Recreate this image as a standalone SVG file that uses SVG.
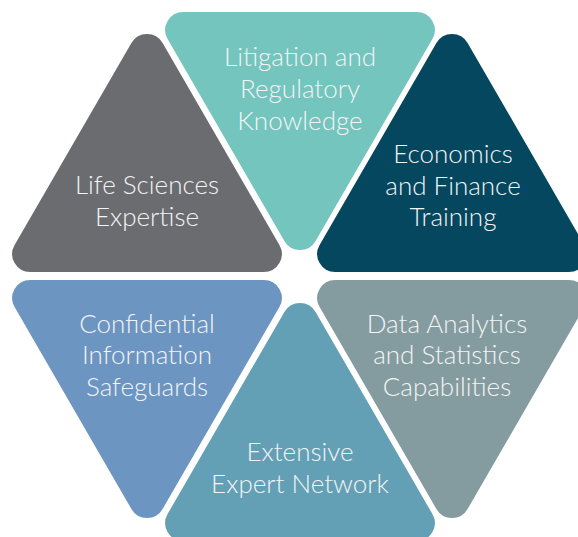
<svg xmlns="http://www.w3.org/2000/svg" width="578" height="537" viewBox="0 0 578 537">
<style>
text{font-family:Lato,"Open Sans","Liberation Sans",sans-serif;font-weight:300;font-size:26px;fill:#f2f4f5;text-anchor:middle}
</style>
<defs>
<path id="tri" d="M15.6,27 L132.4,229 A18,18 0 0 1 116.8,256 L-116.8,256 A18,18 0 0 1 -132.4,229 L-15.6,27 A18,18 0 0 1 15.6,27 Z"/>
</defs>
<rect width="578" height="537" fill="#ffffff"/>
<g id="life-sciences">
<use href="#tri" transform="translate(147,16)" fill="#6b6c70"/>
<text x="147" y="194">Life Sciences</text>
<text x="147" y="226">Expertise</text>
</g>
<g id="litigation">
<use href="#tri" transform="translate(300,268) scale(1,-1)" fill="#74c5be"/>
<text x="300" y="66">Litigation and</text>
<text x="300" y="98">Regulatory</text>
<text x="300" y="130">Knowledge</text>
</g>
<g id="economics">
<use href="#tri" transform="translate(452,16)" fill="#04475f"/>
<text x="453" y="163">Economics</text>
<text x="453" y="195">and Finance</text>
<text x="453" y="226">Training</text>
</g>
<g id="confidential">
<use href="#tri" transform="translate(147,536) scale(1,-1)" fill="#6c95c1"/>
<text x="147" y="333">Confidential</text>
<text x="147" y="364">Information</text>
<text x="147" y="396">Safeguards</text>
</g>
<g id="expert-network">
<use href="#tri" transform="translate(300,285)" fill="#63a0b5"/>
<text x="300" y="461">Extensive</text>
<text x="300" y="493">Expert Network</text>
</g>
<g id="data-analytics">
<use href="#tri" transform="translate(452,536) scale(1,-1)" fill="#849ca0"/>
<text x="447" y="333">Data Analytics</text>
<text x="447" y="364">and Statistics</text>
<text x="447" y="396">Capabilities</text>
</g>
</svg>
